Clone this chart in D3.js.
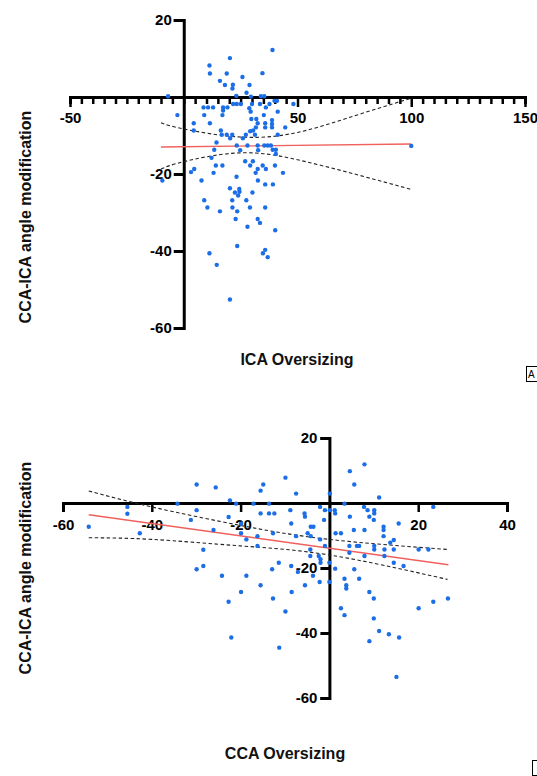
<!DOCTYPE html>
<html>
<head>
<meta charset="utf-8">
<script src="https://cdn.jsdelivr.net/npm/d3@7"></script>
<style>
  body { margin: 0; background: #fff; }
  svg { display: block; font-family: "Liberation Sans", Arial, Helvetica, sans-serif; }
  .axis path, .axis line { stroke: #000; stroke-width: 3; }
  .axis text { font-size: 15px; font-weight: bold; fill: #000; font-family: "Liberation Sans", Arial, sans-serif; }
  .title { font-size: 16px; font-weight: bold; fill: #111; }
</style>
</head>
<body>
<svg width="537" height="776"></svg>
<script>
// ICA oversizing vs angle modification (panel A)
var icaPoints = [
  [39,12.2],[20.3,10.1],[11.3,8.2],[11.5,6.1],[18.9,6.1],[25.8,5.2],[34.6,6.2],[15.9,4.2],[18.1,3.1],[21.6,3.2],
  [21.4,2.2],[28.9,3.1],[27.6,1.1],[23.1,0.3],[-6.9,0.2],[29.5,0.1],[33.9,0.2],[35.4,0.2],
  [25.1,-1.8],[23.3,-1.8],[21.7,-1.8],[30.0,-1.8],[33.5,-1.8],[37.7,-1.8],[41.0,-1.0],[39.9,-1.0],[48.2,-1.8],
  [8.7,-2.7],[10.7,-2.7],[12.9,-2.7],[17.3,-2.7],[19.2,-2.7],[28.8,-2.9],[36.1,-2.7],
  [17.3,-3.5],[17.0,-4.7],[9.0,-4.7],[29.4,-3.8],[35.2,-4.7],[41.3,-3.8],[-2.8,-4.7],
  [4.4,-6.8],[11.5,-6.8],[29.7,-5.7],[31.9,-5.7],[32.5,-6.8],[35.8,-6.8],[38.8,-6.0],[38.8,-7.0],
  [4.4,-8.7],[31.7,-7.9],[30.5,-8.7],[29.2,-8.9],[35.8,-7.9],[38.8,-7.9],[44.6,-7.9],[16.3,-8.7],
  [16.7,-9.8],[18.9,-9.8],[21.3,-9.8],[27.3,-9.8],[31.3,-9.8],[41.3,-9.8],[20.4,-10.7],[26.0,-10.7],
  [14.4,-11.8],[23.3,-12.6],[28.0,-12.6],[32.5,-12.6],[35.4,-12.6],[36.9,-12.6],[38.3,-12.6],
  [13.4,-13.7],[24.8,-13.8],[32.7,-13.8],[39.1,-13.7],[40.5,-13.7],[40.5,-14.8],[12.2,-15.8],
  [27.0,-16.7],[30.4,-16.7],[4.6,-18.7],[14.1,-17.8],[17.0,-17.8],[29.2,-17.8],[34.7,-17.8],[40.1,-17.8],
  [32.5,-18.7],[36.1,-18.7],[3.2,-19.5],[100,-12.7],
  [-9.4,-21.7],[13.1,-19.7],[7.8,-21.7],[23.2,-20.7],[31.6,-19.7],[43.6,-19.7],[32.6,-21.7],[35.8,-22.7],
  [39.2,-22.7],[20.3,-23.7],[22.5,-24.8],[24.4,-23.9],[24.5,-24.6],[23.9,-25.6],[30.2,-24.8],[9.0,-26.8],
  [21.3,-26.8],[27.5,-26.8],[10.4,-28.7],[15.9,-29.7],[21.4,-28.7],[23.5,-29.7],[29.1,-28.7],[35.8,-28.7],
  [22.8,-31.7],[32.5,-31.7],[33.5,-32.7],[28.0,-33.7],[40.2,-34.6],[23.5,-38.7],[11.3,-40.6],[35.8,-39.7],
  [34.8,-40.6],[36.9,-41.6],[14.5,-43.6],[20.3,-52.6]
];
var icaFit = [[-10,-13.0],[100,-12.2]];
var icaUpper = [[-10,-6.7],[0,-8.3],[25,-10.4],[50,-9.2],[75,-4.9],[100,-0.3]];
var icaLower = [[-10,-18.7],[0,-16.8],[25,-14.5],[50,-16.3],[75,-20.0],[100,-24.0]];

// CCA oversizing vs angle modification (panel B)
var ccaPoints = [
  [-54.2,-7.3],[-45.5,-1.2],[-45.5,-3.3],[-42.7,-9.3],[-34.2,-0.2],[-29.9,5.7],[-29.9,-2.2],[-31.2,-5.2],
  [-25.6,4.8],[-28.4,-14.4],[-28.4,-19.4],[-29.9,-20.4],[-26.1,-8.3],[-22.7,-4.3],[-22.4,0.8],[-21.0,-0.2],
  [-17.1,-0.2],[-19.9,-6.4],[-19.9,-9.3],[-18.7,-11.2],[-16.2,-10.2],[-16.2,-13.2],[-15.5,3.8],[-14.9,5.7],
  [-15.5,-3.2],
  [-13.6,-0.2],[-9.9,7.8],[-7.5,2.9],[0.1,2.9],[4.6,9.8],[7.9,11.9],[5.6,5.7],[3.4,-0.2],[11.2,1.7],
  [7.8,-1.2],[8.6,-2.2],[10.1,-2.2],[10.1,-3.2],[9.0,-4.2],[10.0,-5.2],[4.6,-4.2],[23.4,-1.2],[15.6,-6.3],
  [12.2,-7.3],[12.2,-8.3],[12.2,-10.2],[-13.6,-3.2],[-12.4,-3.2],[-8.8,-2.2],[-5.6,-3.2],[-5.5,-4.2],
  [-2.1,-1.2],[-1.0,-2.2],[0.1,-2.2],[1.2,-2.2],[1.3,-3.2],[-1.2,-5.2],[-8.6,-6.3],[-4.2,-7.3],[-3.6,-7.3],
  [-12.7,-9.3],[-7.5,-10.2],[-4.9,-9.3],[-4.2,-10.2],[1.4,-9.3],[2.6,-9.3],[5.5,-8.3],[7.9,-8.3],
  [-2.1,-11.2],[-1.0,-13.2],[4.5,-13.2],[6.2,-13.2],[6.7,-13.2],[10.1,-13.2],[10.1,-14.3],[12.4,-14.3],
  [14.5,-14.3],[13.7,-12.2],[14.5,-11.4],[20.1,-14.3],[22.3,-14.3],[-4.3,-14.3],[-4.3,-16.3],[-2.4,-16.3],
  [-2.0,-17.3],[-2.0,-18.4],[4.5,-15.3],[7.9,-16.3],[12.4,-16.3],[0,-18.4],[14.5,-18.4],[16.7,-19.4],
  [-11.4,-18.4],[-8.6,-19.4],[-12.9,-20.4],[5.6,-20.4],
  [-24.2,-22.4],[-18.7,-22.4],[-7.1,-21.2],[-3.7,-22.4],[-2.2,-24.3],[0,-24.3],[1.3,-20.2],[-15.5,-25.3],
  [-5.5,-25.3],[3.4,-23.3],[6.7,-23.3],[3.8,-25.3],[3.8,-26.3],[-19.9,-27.4],[-8.5,-27.4],[9.0,-27.4],
  [-22.7,-30.4],[-12.7,-29.4],[10.0,-29.4],[26.7,-29.4],[23.4,-30.4],[20.1,-32.4],[-9.9,-33.4],[2.6,-32.4],
  [3.4,-34.5],[10.0,-35.5],[11.2,-39.4],[13.4,-40.4],[15.7,-41.4],[9.0,-42.5],[-22.1,-41.4],[-11.3,-44.5],
  [15.1,-53.5]
];
var ccaFit = [[-54.2,-3.6],[26.8,-19.0]];
var ccaUpper = [[-54.2,3.7],[-40,-1.2],[-20,-6.9],[0,-11.2],[26.6,-14.3]];
var ccaLower = [[-54.2,-10.7],[-40,-11.2],[-20,-13.2],[0,-16.0],[26.6,-23.5]];

var svg = d3.select("svg");

function panel(o) {
  var x = d3.scaleLinear().domain(o.xDomain).range(o.xRange),
      y = d3.scaleLinear().domain([-60, 20]).range(o.yRange);
  var g = svg.append("g");
  var fmt = function (d) { return d === 0 ? "" : String(d); };

  var xa = g.append("g").attr("class", "axis")
      .attr("transform", "translate(0," + y(0) + ")")
      .call(d3.axisBottom(x).tickValues(o.xTicks).tickSizeOuter(0).tickSize(o.minorLen)
        .tickFormat(function (d) { return o.xLabels.indexOf(d) >= 0 ? String(d) : ""; }));
  xa.selectAll(".tick line")
      .attr("y2", function (d) { return o.xLabels.indexOf(d) >= 0 ? o.majorLen : o.minorLen; })
      .style("stroke-width", 2.5);
  xa.selectAll(".tick text").attr("y", o.labelGap);

  var ya = g.append("g").attr("class", "axis")
      .attr("transform", "translate(" + x(0) + ",0)")
      .call(d3.axisLeft(y).tickValues([-60, -40, -20, 0, 20]).tickSizeOuter(0).tickSize(o.yTick).tickFormat(fmt));
  ya.selectAll(".tick text").attr("x", -12);

  var line = d3.line().x(function (d) { return x(d[0]); }).y(function (d) { return y(d[1]); });
  [o.upper, o.lower].forEach(function (b) {
    g.append("path").datum(b)
      .attr("d", line.curve(d3.curveNatural))
      .attr("fill", "none").attr("stroke", "#222").attr("stroke-width", 1.1)
      .attr("stroke-dasharray", "3.5,2.5");
  });
  g.append("path").datum(o.fit)
    .attr("d", line.curve(d3.curveLinear))
    .attr("fill", "none").attr("stroke", "#f0605c").attr("stroke-width", 1.4);

  g.append("g").selectAll("circle").data(o.points).enter().append("circle")
    .attr("cx", function (d) { return x(d[0]); })
    .attr("cy", function (d) { return y(d[1]); })
    .attr("r", 2.2)
    .attr("fill", "#1c6ee6");

  g.append("text").attr("class", "title")
    .attr("x", o.xTitle[0]).attr("y", o.xTitle[1])
    .attr("text-anchor", "middle").text(o.xTitleText);
  g.append("text").attr("class", "title")
    .attr("transform", "translate(" + o.yTitle[0] + "," + o.yTitle[1] + ") rotate(-90)")
    .attr("text-anchor", "middle").text("CCA-ICA angle modification");

  // panel letter box at the right edge, mostly cut off like the original
  g.append("rect").attr("x", o.box[0] + 0.5).attr("y", o.box[1] + 0.5)
    .attr("width", 14).attr("height", 15)
    .attr("fill", "none").attr("stroke", "#000").attr("stroke-width", 1);
  if (o.boxText) {
    g.append("text").attr("x", o.box[0] + 2).attr("y", o.box[1] + 12)
      .style("font-size", "10px").text(o.boxText);
  }
}

panel({
  points: icaPoints, fit: icaFit, upper: icaUpper, lower: icaLower,
  xDomain: [-50, 150], xRange: [70, 525], yRange: [328, 20],
  xTicks: d3.range(-50, 151, 5), xLabels: [-50, 50, 100, 150],
  minorLen: 7, majorLen: 10, labelGap: 15, yTick: 10,
  xTitle: [297, 365], xTitleText: "ICA Oversizing", yTitle: [31, 217],
  box: [526, 366], boxText: "A"
});

panel({
  points: ccaPoints, fit: ccaFit, upper: ccaUpper, lower: ccaLower,
  xDomain: [-60, 40], xRange: [63, 507], yRange: [698, 438],
  xTicks: [-60, -40, -20, 0, 20, 40], xLabels: [-60, -40, -20, 20, 40],
  minorLen: 9, majorLen: 9, labelGap: 16, yTick: 9,
  xTitle: [285, 759], xTitleText: "CCA Oversizing", yTitle: [31, 568],
  box: [532, 760], boxText: ""
});
</script>
</body>
</html>
